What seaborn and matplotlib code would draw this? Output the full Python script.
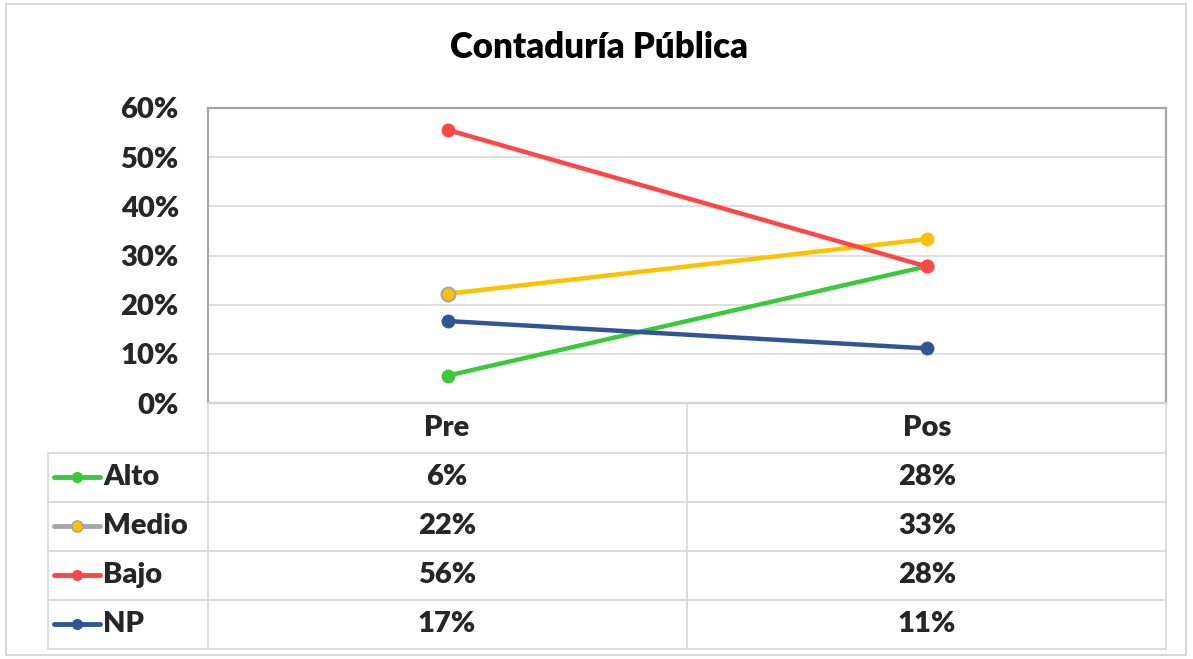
import matplotlib
matplotlib.use("Agg")
import matplotlib.pyplot as plt
import pandas as pd
import seaborn as sns
from matplotlib.lines import Line2D
from matplotlib.patches import Rectangle
from matplotlib.ticker import FuncFormatter, MultipleLocator

stages = ["Pre", "Pos"]
levels = ["Alto", "Medio", "Bajo", "NP"]
alto = [5.56, 27.78]
medio = [22.22, 33.33]
bajo = [55.56, 27.78]
np_vals = [16.67, 11.11]
colors = {"Alto": "#3CC83C", "Medio": "#FFC000", "Bajo": "#FF4646", "NP": "#2F5597"}
legend_line = {"Alto": "#3CC83C", "Medio": "#A6A6A6", "Bajo": "#FF4646", "NP": "#2F5597"}

series = {"Alto": alto, "Medio": medio, "Bajo": bajo, "NP": np_vals}
df = pd.DataFrame(
    [(lvl, st, v) for lvl in levels for st, v in zip(stages, series[lvl])],
    columns=["Nivel", "Etapa", "Valor"],
)

sns.set_style("white")
plt.rcParams["font.family"] = ["Lato", "DejaVu Sans"]
plt.rcParams["font.weight"] = "heavy"

W, H = 1193, 659
fig = plt.figure(figsize=(W / 100, H / 100), dpi=100)
fig.patch.set_facecolor("white")


def fx(px):
    return px / W


def fy(py):
    return 1 - py / H


# outer chart border
fig.add_artist(Rectangle((fx(6), fy(655)), fx(1186) - fx(6), fy(4) - fy(655),
                         transform=fig.transFigure, fill=False, edgecolor="#D9D9D9", lw=1.5))

fig.text(fx(599), fy(48), "Contaduría Pública", ha="center", va="center",
         fontsize=25, fontweight="heavy", color="black")

# plot area: x 208..1166, y 108..403
ax = fig.add_axes([fx(208), fy(403), fx(1166) - fx(208), fy(108) - fy(403)])
sns.lineplot(data=df, x="Etapa", y="Valor", hue="Nivel", hue_order=levels,
             palette=colors, lw=3.2, marker="o", markersize=10,
             markeredgewidth=0, legend=False, ax=ax, sort=False)
# Medio first marker has grey rim
ax.plot([0], [medio[0]], marker="o", markersize=10, color=colors["Medio"],
        markeredgecolor="#A6A6A6", markeredgewidth=1.5, zorder=5)

ax.set_xlim(-0.5, 1.5)
ax.set_ylim(0, 60)
ax.yaxis.set_major_locator(MultipleLocator(10))
ax.yaxis.set_major_formatter(FuncFormatter(lambda v, p: f"{v:.0f}%"))
ax.grid(axis="y", color="#D9D9D9", lw=1.2)
ax.set_axisbelow(True)
ax.set_xticks([])
ax.set_xlabel("")
ax.set_ylabel("")
ax.tick_params(axis="y", labelsize=21, length=0, pad=21)
for lab in ax.get_yticklabels():
    lab.set_fontweight("heavy")
for s in ax.spines.values():
    s.set_color("#A6A6A6")
    s.set_linewidth(1.6)

# data table: x 48..1166, y 403..649
tab = fig.add_axes([fx(48), fy(649), fx(1166) - fx(48), fy(403) - fy(649)])
tab.set_xlim(48, 1166)
tab.set_ylim(649, 403)
tab.axis("off")
grid_c = "#D9D9D9"
row_edges = [403, 453, 502, 551, 600, 649]
col_mid = 687
for y in row_edges[1:]:
    tab.plot([48, 1166], [y, y], color=grid_c, lw=1.3, clip_on=False)
tab.plot([208, 1166], [403, 403], color=grid_c, lw=1.3, clip_on=False)
tab.plot([48, 48], [453, 649], color=grid_c, lw=1.3, clip_on=False)
tab.plot([208, 208], [403, 649], color=grid_c, lw=1.3, clip_on=False)
tab.plot([col_mid, col_mid], [403, 649], color=grid_c, lw=1.3, clip_on=False)
tab.plot([1166, 1166], [403, 649], color=grid_c, lw=1.3, clip_on=False)

centers = [447, 927]
fs = 21
for c, st in zip(centers, stages):
    tab.text(c, 428, st, ha="center", va="center", fontsize=fs, fontweight="heavy")
for i, lvl in enumerate(levels):
    yc = (row_edges[i + 1] + row_edges[i + 2]) / 2
    tab.add_line(Line2D([54, 100], [yc, yc], color=legend_line[lvl], lw=3.5,
                        solid_capstyle="round"))
    edge = "#A6A6A6" if lvl == "Medio" else colors[lvl]
    tab.plot([77], [yc], marker="o", markersize=8, color=colors[lvl],
             markeredgecolor=edge, markeredgewidth=1.2 if lvl == "Medio" else 0)
    tab.text(103, yc, lvl, ha="left", va="center", fontsize=fs, fontweight="heavy")
    for c, v in zip(centers, series[lvl]):
        tab.text(c, yc, f"{v:.0f}%", ha="center", va="center", fontsize=fs, fontweight="heavy")

fig.savefig("out.png", dpi=100)
